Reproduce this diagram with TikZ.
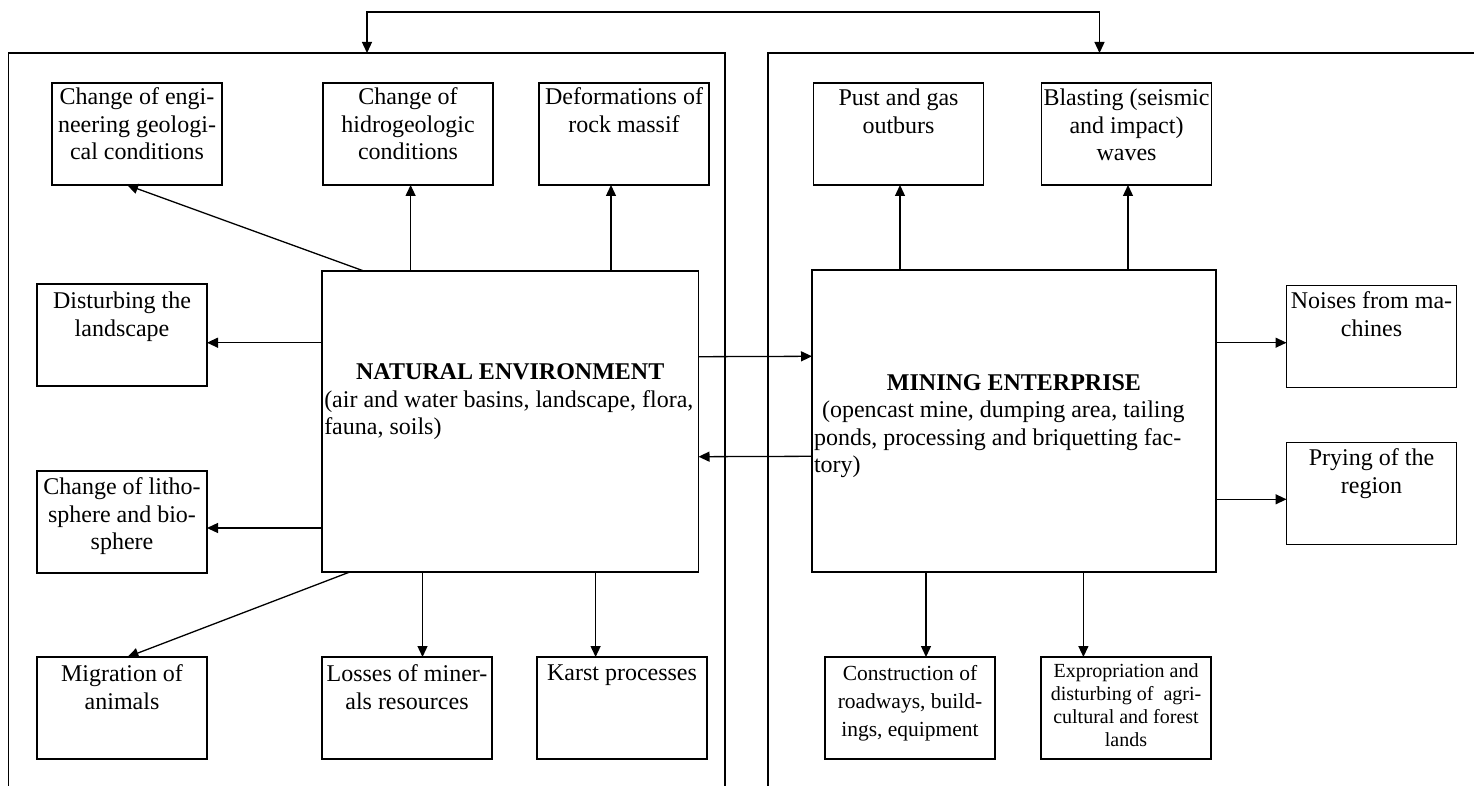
\documentclass[tikz,border=0pt]{standalone}
\usepackage{fontspec}
\setmainfont{Liberation Serif}
\usepackage{tikz}
\usetikzlibrary{arrows.meta,positioning}
\tikzset{
    effect/.style={draw, line width=1.5pt, inner sep=0pt, outer sep=0pt, anchor=north west, minimum width=170pt, minimum height=102pt, font=\fontsize{24}{27.5}\selectfont},
    core/.style={draw, line width=1.7pt, inner sep=0pt, outer sep=0pt, anchor=north west, font=\fontsize{24}{27.5}\selectfont},
    panel/.style={line width=1.1pt},
    link_arrow/.style={-{Triangle[length=11pt,width=10pt]}, line width=1.3pt}
}

\begin{document}
\begin{tikzpicture}[x=1pt, y=-1pt]
  \useasboundingbox (0,0) rectangle (1474,786);

  % Two open panels and the link between them
  \draw[panel] (8.5,786) -- (8.5,53) -- (725,53) -- (725,786);
  \draw[panel] (768,786) -- (768,53) -- (1474,53);
  \coordinate (panel_l) at (367,53);
  \coordinate (panel_r) at (1099.5,53);
  \draw[link_arrow, {Triangle[length=11pt,width=10pt]}-{Triangle[length=11pt,width=10pt]}] (panel_l) -- ++(0,-41) -| (panel_r);

  % Central blocks
  \node[core, minimum width=376.5pt, minimum height=301.6pt] (nat_env) at (322,270.7) {
    \begin{minipage}[c][301.6pt][t]{372pt}
      \vspace*{93pt}
      {\centering\bfseries NATURAL ENVIRONMENT\par}
      (air and water basins, landscape, flora,\\
      fauna, soils)
    \end{minipage}
  };

  \node[core, minimum width=404pt, minimum height=302pt] (mining) at (812,270.3) {
    \begin{minipage}[c][302pt][t]{400pt}
      \vspace*{104pt}
      {\centering\bfseries MINING ENTERPRISE\par}
      \hspace*{8pt}(opencast mine, dumping area, tailing\\
      ponds, processing and briquetting fac-\\
      tory)
    \end{minipage}
  };

  % Top row: effects on the environment
  \node[effect] (chg_eng) at (52,83) {
    \begin{minipage}[c][102pt][t]{166pt}\centering\vspace*{5pt}
      Change of engi-\\ neering geologi-\\ cal conditions
    \end{minipage}
  };
  \node[effect] (chg_hydro) at (323,83) {
    \begin{minipage}[c][102pt][t]{166pt}\centering\vspace*{5pt}
      Change of\\ hidrogeologic\\ conditions
    \end{minipage}
  };
  \node[effect, right=46pt of chg_hydro] (rock_def) {
    \begin{minipage}[c][102pt][t]{166pt}\centering\vspace*{5pt}
      Deformations of\\ rock massif
    \end{minipage}
  };

  % Left column
  \node[effect] (landsc) at (37,284) {
    \begin{minipage}[c][102pt][t]{166pt}\centering\vspace*{8pt}
      Disturbing the\\ landscape
    \end{minipage}
  };
  \node[effect, below=85pt of landsc] (litho) {
    \begin{minipage}[c][102pt][t]{166pt}\centering\vspace*{7pt}
      Change of litho-\\ sphere and bio-\\ sphere
    \end{minipage}
  };
  \node[effect, below=84pt of litho] (migr) {
    \begin{minipage}[c][102pt][t]{166pt}\centering\vspace*{8pt}
      Migration of\\ animals
    \end{minipage}
  };

  % Bottom row, left panel
  \node[effect] (losses) at (322,657) {
    \begin{minipage}[c][102pt][t]{166pt}\centering\vspace*{8pt}
      Losses of miner-\\ als resources
    \end{minipage}
  };
  \node[effect, right=45pt of losses] (karst) {
    \begin{minipage}[c][102pt][t]{166pt}\centering\vspace*{8pt}
      Karst processes
    \end{minipage}
  };

  % Top row: effects of the enterprise
  \node[effect] (dust_gas) at (813.5,83) {
    \begin{minipage}[c][102pt][t]{166pt}\centering\vspace*{6pt}
      Pust and gas\\ outburs
    \end{minipage}
  };
  \node[effect, right=58pt of dust_gas] (blast) {
    \begin{minipage}[c][102pt][t]{166pt}\centering\vspace*{6pt}
      Blasting (seismic\\ and impact)\\ waves
    \end{minipage}
  };

  % Right column
  \node[effect] (noise) at (1286.5,285.7) {
    \begin{minipage}[c][102pt][t]{166pt}\centering\vspace*{6pt}
      Noises from ma-\\ chines
    \end{minipage}
  };
  \node[effect, below=55pt of noise] (prying) {
    \begin{minipage}[c][102pt][t]{166pt}\centering\vspace*{6pt}
      Prying of the\\ region
    \end{minipage}
  };

  % Bottom row, right panel
  \node[effect, font=\fontsize{21.5}{28}\selectfont] (constr) at (825,657) {
    \begin{minipage}[c][102pt][t]{166pt}\centering\vspace*{8pt}
      Construction of\\ roadways, build-\\ ings, equipment
    \end{minipage}
  };
  \node[effect, font=\fontsize{20}{23}\selectfont, right=46pt of constr] (exprop) {
    \begin{minipage}[c][102pt][t]{166pt}\centering\vspace*{7pt}
      Expropriation and\\ disturbing of~ agri-\\ cultural and forest\\ lands
    \end{minipage}
  };

  % Links from the natural environment
  \draw[link_arrow] ([xshift=41pt]nat_env.north west) -- ([xshift=75pt]chg_eng.south west);
  \draw[link_arrow] ([xshift=88.6pt]nat_env.north west) -- ([xshift=87.6pt]chg_hydro.south west);
  \draw[link_arrow] ([xshift=289pt]nat_env.north west) -- ([xshift=72pt]rock_def.south west);
  \draw[link_arrow] ([yshift=-72pt]nat_env.north west) -- ([yshift=-58.7pt]landsc.north east);
  \draw[link_arrow] ([yshift=-257.3pt]nat_env.north west) -- ([yshift=-57pt]litho.north east);
  \draw[link_arrow] ([xshift=27pt]nat_env.south west) -- ([xshift=90.5pt]migr.north west);
  \draw[link_arrow] ([xshift=100.5pt]nat_env.south west) -- ([xshift=100.5pt]losses.north west);
  \draw[link_arrow] ([xshift=273.6pt]nat_env.south west) -- ([xshift=58.6pt]karst.north west);

  % Mutual influence
  \draw[link_arrow] ([yshift=-86pt]nat_env.north east) -- ([yshift=-86pt]mining.north west);
  \draw[link_arrow] ([yshift=-186pt]mining.north west) -- ([yshift=-186pt]nat_env.north east);

  % Links from the mining enterprise
  \draw[link_arrow] ([xshift=88pt]mining.north west) -- ([xshift=86.5pt]dust_gas.south west);
  \draw[link_arrow] ([xshift=316pt]mining.north west) -- ([xshift=86.5pt]blast.south west);
  \draw[link_arrow] ([yshift=-72.4pt]mining.north east) -- ([yshift=-57pt]noise.north west);
  \draw[link_arrow] ([yshift=-229pt]mining.north east) -- ([yshift=-56.6pt]prying.north west);
  \draw[link_arrow] ([xshift=114pt]mining.south west) -- ([xshift=101pt]constr.north west);
  \draw[link_arrow] ([xshift=271.4pt]mining.south west) -- ([xshift=42.4pt]exprop.north west);

\end{tikzpicture}
\end{document}
